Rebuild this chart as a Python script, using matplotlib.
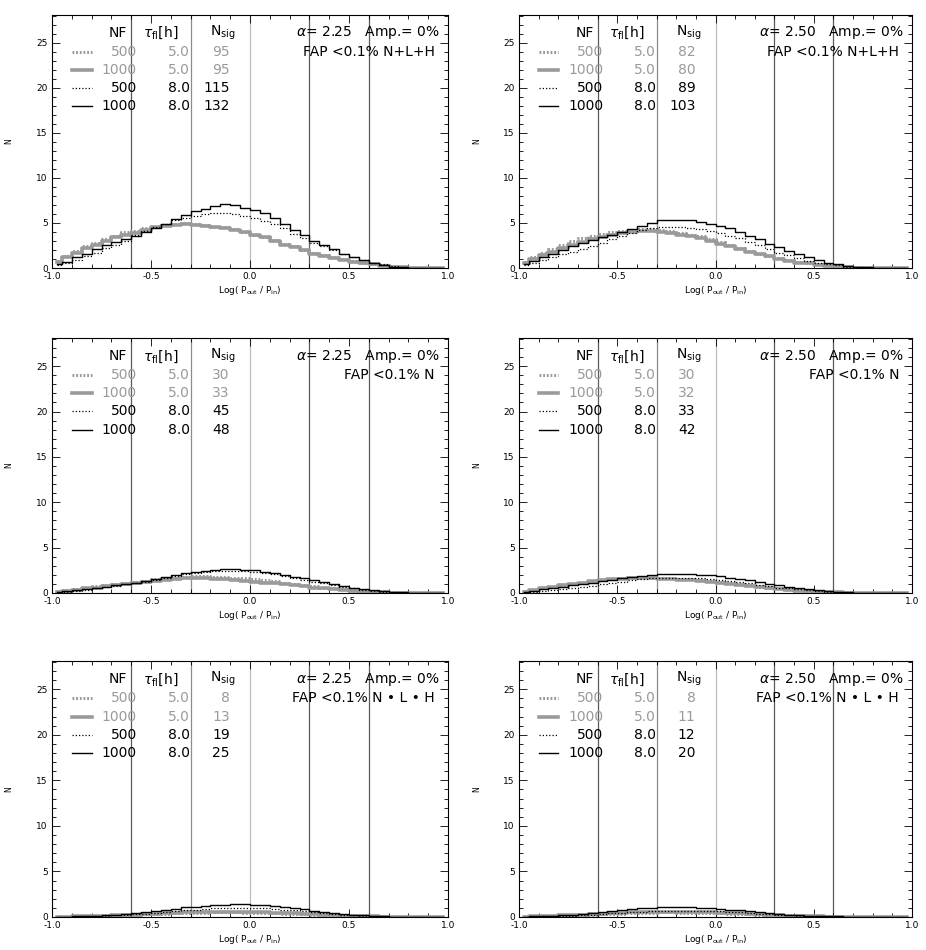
import numpy as np
import matplotlib.pyplot as plt
from matplotlib.ticker import MultipleLocator, FormatStrFormatter

# bin centres of the histograms (psym=10 style steps)
x = np.arange(40) * 0.05 - 0.975

# alpha = 2.25, FAP < 0.1% N+L+H
a225_nlh_500_5 = [0.8, 1.3, 1.9, 2.4, 2.8, 3.2, 3.6, 4.0, 4.1, 4.4, 4.6, 4.8, 4.9, 5.0, 4.9, 4.8, 4.6, 4.5, 4.3, 4.0,
                  3.7, 3.4, 3.1, 2.7, 2.4, 2.0, 1.7, 1.4, 1.2, 1.0, 0.8, 0.6, 0.4, 0.3, 0.15, 0.07, 0.03, 0.01, 0, 0]
a225_nlh_1000_5 = [0.7, 1.2, 1.7, 2.2, 2.6, 3.0, 3.4, 3.7, 3.9, 4.2, 4.5, 4.7, 4.8, 4.9, 4.8, 4.7, 4.5, 4.4, 4.2, 4.0,
                   3.7, 3.4, 3.0, 2.6, 2.3, 2.0, 1.6, 1.3, 1.1, 0.9, 0.7, 0.5, 0.4, 0.25, 0.15, 0.07, 0.03, 0.01, 0, 0]
a225_nlh_500_8 = [0.3, 0.6, 0.9, 1.3, 1.7, 2.2, 2.6, 3.0, 3.7, 4.1, 4.5, 4.9, 5.3, 5.6, 5.8, 6.0, 6.1, 6.1, 6.0, 5.8,
                  5.5, 5.2, 4.9, 4.4, 3.8, 3.3, 2.8, 2.4, 2.0, 1.6, 1.2, 0.9, 0.6, 0.4, 0.2, 0.1, 0.04, 0.01, 0, 0]
a225_nlh_1000_8 = [0.4, 0.7, 1.2, 1.6, 2.1, 2.6, 2.9, 3.2, 3.6, 4.0, 4.4, 4.9, 5.4, 5.9, 6.3, 6.6, 6.9, 7.1, 7.0, 6.7,
                   6.4, 6.1, 5.6, 4.9, 4.2, 3.7, 3.0, 2.5, 2.1, 1.6, 1.2, 0.9, 0.6, 0.35, 0.15, 0.08, 0.03, 0.01, 0, 0]

# alpha = 2.50, FAP < 0.1% N+L+H
a250_nlh_500_5 = [0.7, 1.2, 1.7, 2.1, 2.5, 3.0, 3.3, 3.6, 3.8, 4.0, 4.1, 4.2, 4.3, 4.3, 4.2, 4.1, 3.9, 3.7, 3.5, 3.2,
                  2.9, 2.6, 2.2, 1.9, 1.6, 1.3, 1.1, 0.9, 0.7, 0.5, 0.4, 0.3, 0.2, 0.1, 0.05, 0.02, 0, 0, 0, 0]
a250_nlh_1000_5 = [0.6, 1.0, 1.4, 1.8, 2.2, 2.6, 2.9, 3.2, 3.4, 3.7, 3.9, 4.0, 4.1, 4.1, 4.0, 3.9, 3.7, 3.6, 3.3, 3.0,
                   2.7, 2.4, 2.1, 1.8, 1.5, 1.3, 1.0, 0.8, 0.6, 0.5, 0.35, 0.25, 0.15, 0.1, 0.05, 0.02, 0, 0, 0, 0]
a250_nlh_500_8 = [0.3, 0.6, 0.9, 1.2, 1.5, 1.8, 2.1, 2.4, 2.8, 3.2, 3.6, 3.9, 4.2, 4.4, 4.5, 4.5, 4.5, 4.4, 4.3, 4.1,
                  3.9, 3.6, 3.3, 2.9, 2.5, 2.1, 1.7, 1.4, 1.1, 0.8, 0.6, 0.4, 0.3, 0.15, 0.08, 0.03, 0.01, 0, 0, 0]
a250_nlh_1000_8 = [0.4, 0.8, 1.2, 1.6, 2.0, 2.4, 2.8, 3.1, 3.4, 3.7, 4.0, 4.3, 4.7, 5.0, 5.3, 5.3, 5.3, 5.3, 5.1, 4.9,
                   4.7, 4.4, 4.0, 3.6, 3.2, 2.7, 2.3, 1.9, 1.5, 1.2, 0.9, 0.6, 0.4, 0.25, 0.15, 0.07, 0.03, 0.01, 0, 0]

# alpha = 2.25, FAP < 0.1% N
a225_n_500_5 = [0.15, 0.3, 0.45, 0.6, 0.75, 0.85, 1.0, 1.1, 1.2, 1.35, 1.5, 1.6, 1.7, 1.8, 1.85, 1.85, 1.8, 1.75, 1.7, 1.6,
                1.5, 1.4, 1.3, 1.15, 1.0, 0.9, 0.75, 0.6, 0.5, 0.4, 0.3, 0.2, 0.12, 0.07, 0.04, 0.02, 0, 0, 0, 0]
a225_n_1000_5 = [0.15, 0.25, 0.35, 0.5, 0.6, 0.75, 0.9, 1.0, 1.1, 1.25, 1.35, 1.45, 1.55, 1.6, 1.6, 1.6, 1.55, 1.5, 1.45, 1.35,
                 1.25, 1.15, 1.05, 0.95, 0.85, 0.75, 0.6, 0.5, 0.4, 0.3, 0.22, 0.15, 0.1, 0.06, 0.03, 0.01, 0, 0, 0, 0]
a225_n_500_8 = [0.08, 0.15, 0.25, 0.35, 0.5, 0.65, 0.8, 0.95, 1.1, 1.25, 1.45, 1.65, 1.85, 2.05, 2.2, 2.35, 2.4, 2.45, 2.45, 2.4,
                2.3, 2.2, 2.05, 1.85, 1.65, 1.45, 1.25, 1.05, 0.85, 0.7, 0.5, 0.35, 0.25, 0.15, 0.08, 0.04, 0.02, 0, 0, 0]
a225_n_1000_8 = [0.1, 0.2, 0.3, 0.4, 0.55, 0.7, 0.85, 1.0, 1.15, 1.35, 1.55, 1.75, 1.95, 2.15, 2.3, 2.45, 2.55, 2.6, 2.6, 2.55,
                 2.5, 2.35, 2.2, 2.0, 1.8, 1.6, 1.4, 1.2, 1.0, 0.8, 0.6, 0.45, 0.3, 0.2, 0.12, 0.06, 0.03, 0.01, 0, 0]

# alpha = 2.50, FAP < 0.1% N
a250_n_500_5 = [0.2, 0.35, 0.5, 0.65, 0.8, 0.95, 1.1, 1.25, 1.4, 1.5, 1.6, 1.65, 1.7, 1.7, 1.65, 1.6, 1.55, 1.5, 1.4, 1.3,
                1.2, 1.05, 0.95, 0.85, 0.7, 0.6, 0.5, 0.4, 0.3, 0.22, 0.15, 0.1, 0.06, 0.03, 0.01, 0, 0, 0, 0, 0]
a250_n_1000_5 = [0.15, 0.35, 0.5, 0.7, 0.85, 1.0, 1.15, 1.3, 1.4, 1.5, 1.55, 1.6, 1.6, 1.6, 1.55, 1.5, 1.45, 1.4, 1.3, 1.2,
                 1.1, 1.0, 0.85, 0.75, 0.65, 0.55, 0.45, 0.35, 0.25, 0.2, 0.15, 0.1, 0.06, 0.03, 0.01, 0, 0, 0, 0, 0]
a250_n_500_8 = [0.05, 0.1, 0.2, 0.3, 0.4, 0.5, 0.65, 0.8, 0.95, 1.1, 1.25, 1.4, 1.55, 1.65, 1.7, 1.7, 1.7, 1.65, 1.6, 1.55,
                1.45, 1.35, 1.2, 1.05, 0.9, 0.75, 0.6, 0.5, 0.4, 0.3, 0.2, 0.15, 0.1, 0.06, 0.03, 0.01, 0, 0, 0, 0]
a250_n_1000_8 = [0.1, 0.25, 0.4, 0.55, 0.7, 0.85, 1.0, 1.15, 1.3, 1.45, 1.6, 1.75, 1.9, 2.0, 2.1, 2.1, 2.1, 2.05, 2.0, 1.95,
                 1.85, 1.7, 1.55, 1.4, 1.2, 1.0, 0.85, 0.7, 0.55, 0.4, 0.3, 0.2, 0.15, 0.1, 0.05, 0.03, 0.01, 0, 0, 0]

# alpha = 2.25, FAP < 0.1% N.L.H
a225_nxlxh_500_5 = [0.01, 0.03, 0.05, 0.07, 0.1, 0.13, 0.16, 0.2, 0.24, 0.28, 0.32, 0.36, 0.4, 0.44, 0.47, 0.49, 0.5, 0.5, 0.5, 0.49,
                    0.47, 0.44, 0.41, 0.37, 0.33, 0.29, 0.25, 0.21, 0.17, 0.13, 0.1, 0.07, 0.05, 0.03, 0.02, 0.01, 0, 0, 0, 0]
a225_nxlxh_1000_5 = [0.02, 0.04, 0.06, 0.09, 0.12, 0.15, 0.19, 0.23, 0.27, 0.32, 0.37, 0.42, 0.47, 0.52, 0.56, 0.58, 0.6, 0.6, 0.6, 0.58,
                     0.55, 0.52, 0.48, 0.44, 0.4, 0.35, 0.3, 0.25, 0.2, 0.16, 0.12, 0.09, 0.06, 0.04, 0.02, 0.01, 0, 0, 0, 0]
a225_nxlxh_500_8 = [0.01, 0.03, 0.05, 0.07, 0.1, 0.14, 0.18, 0.24, 0.3, 0.38, 0.45, 0.55, 0.65, 0.75, 0.82, 0.9, 0.95, 1.0, 1.0, 1.0,
                    0.98, 0.95, 0.9, 0.82, 0.72, 0.62, 0.52, 0.42, 0.33, 0.25, 0.18, 0.13, 0.09, 0.06, 0.04, 0.02, 0.01, 0, 0, 0]
a225_nxlxh_1000_8 = [0.02, 0.04, 0.06, 0.1, 0.14, 0.2, 0.27, 0.35, 0.45, 0.55, 0.65, 0.75, 0.9, 1.05, 1.15, 1.25, 1.3, 1.35, 1.4, 1.4,
                     1.35, 1.3, 1.2, 1.1, 1.0, 0.85, 0.7, 0.55, 0.45, 0.35, 0.25, 0.18, 0.12, 0.08, 0.05, 0.03, 0.02, 0.01, 0, 0]

# alpha = 2.50, FAP < 0.1% N.L.H
a250_nxlxh_500_5 = [0.02, 0.05, 0.08, 0.11, 0.14, 0.18, 0.22, 0.26, 0.3, 0.34, 0.38, 0.42, 0.46, 0.49, 0.5, 0.5, 0.49, 0.47, 0.45, 0.42,
                    0.39, 0.36, 0.32, 0.28, 0.24, 0.2, 0.17, 0.14, 0.11, 0.08, 0.06, 0.04, 0.03, 0.02, 0.01, 0, 0, 0, 0, 0]
a250_nxlxh_1000_5 = [0.03, 0.06, 0.09, 0.13, 0.17, 0.22, 0.27, 0.32, 0.37, 0.42, 0.47, 0.52, 0.56, 0.59, 0.6, 0.6, 0.59, 0.57, 0.54, 0.51,
                     0.47, 0.43, 0.39, 0.34, 0.29, 0.24, 0.2, 0.16, 0.12, 0.09, 0.07, 0.05, 0.03, 0.02, 0.01, 0, 0, 0, 0, 0]
a250_nxlxh_500_8 = [0.02, 0.04, 0.06, 0.09, 0.12, 0.16, 0.21, 0.27, 0.33, 0.4, 0.47, 0.54, 0.6, 0.65, 0.68, 0.7, 0.7, 0.7, 0.68, 0.65,
                    0.61, 0.56, 0.5, 0.44, 0.38, 0.32, 0.26, 0.21, 0.16, 0.12, 0.09, 0.06, 0.04, 0.03, 0.02, 0.01, 0, 0, 0, 0]
a250_nxlxh_1000_8 = [0.03, 0.06, 0.1, 0.15, 0.2, 0.27, 0.35, 0.45, 0.55, 0.65, 0.75, 0.85, 0.95, 1.0, 1.05, 1.05, 1.05, 1.05, 1.0, 0.95,
                     0.9, 0.82, 0.72, 0.62, 0.52, 0.42, 0.34, 0.27, 0.21, 0.16, 0.12, 0.09, 0.06, 0.04, 0.03, 0.02, 0.01, 0, 0, 0]

# legend table
nf_vals = ['500', '1000', '500', '1000']
tau_vals = ['5.0', '5.0', '8.0', '8.0']
alphas = ['2.25', '2.50']
fap_labels = ['N+L+H', 'N', 'N \u2022 L \u2022 H']
nsig = [
    [['95', '95', '115', '132'], ['82', '80', '89', '103']],
    [['30', '33', '45', '48'], ['30', '32', '33', '42']],
    [['8', '13', '19', '25'], ['8', '11', '12', '20']],
]
hists = [
    [[a225_nlh_500_5, a225_nlh_1000_5, a225_nlh_500_8, a225_nlh_1000_8],
     [a250_nlh_500_5, a250_nlh_1000_5, a250_nlh_500_8, a250_nlh_1000_8]],
    [[a225_n_500_5, a225_n_1000_5, a225_n_500_8, a225_n_1000_8],
     [a250_n_500_5, a250_n_1000_5, a250_n_500_8, a250_n_1000_8]],
    [[a225_nxlxh_500_5, a225_nxlxh_1000_5, a225_nxlxh_500_8, a225_nxlxh_1000_8],
     [a250_nxlxh_500_5, a250_nxlxh_1000_5, a250_nxlxh_500_8, a250_nxlxh_1000_8]],
]
vlines = [-0.6, -0.3, 0.0, 0.3, 0.6]
vline_cols = ['#5a5a5a', '#8c8c8c', '#bdbdbd', '#5a5a5a', '#5a5a5a']

grey = '#9a9a9a'
styles = [
    dict(color=grey, ls=(0, (0.6, 0.6)), lw=2.2),
    dict(color=grey, ls='-', lw=2.6),
    dict(color='black', ls=(0, (1, 1.6)), lw=0.9),
    dict(color='black', ls='-', lw=1.0),
]
txt_cols = [grey, grey, 'black', 'black']

plt.rcParams['font.family'] = 'DejaVu Sans'
fig = plt.figure(figsize=(9.26, 9.5), dpi=100)
W, H = 926., 950.
col_x = [(52, 448), (519, 912)]
row_y = [(15, 268), (338, 593), (661, 917)]

for r in range(3):
    for c in range(2):
        x0, x1 = col_x[c]
        y0, y1 = row_y[r]
        ax = fig.add_axes([x0 / W, 1 - y1 / H, (x1 - x0) / W, (y1 - y0) / H])
        for xv, vc in zip(vlines, vline_cols):
            ax.axvline(xv, color=vc, lw=0.9, zorder=1)
        for i in range(4):
            ax.step(x, hists[r][c][i], where='mid', zorder=3 if i >= 2 else 2, **styles[i])
        ax.set_xlim(-1.0, 1.0)
        ax.set_ylim(0, 28.1)
        ax.xaxis.set_major_locator(MultipleLocator(0.5))
        ax.xaxis.set_minor_locator(MultipleLocator(0.1))
        ax.yaxis.set_major_locator(MultipleLocator(5))
        ax.yaxis.set_minor_locator(MultipleLocator(1))
        ax.xaxis.set_major_formatter(FormatStrFormatter('%.1f'))
        ax.tick_params(which='both', direction='in', top=True, right=True, labelsize=6.5, width=0.6, pad=3)
        ax.tick_params(which='major', length=6)
        ax.tick_params(which='minor', length=3)
        for s in ax.spines.values():
            s.set_linewidth(0.8)
        ax.set_xlabel(r'Log( P$_{\rm out}$ / P$_{\rm in}$)', fontsize=6.5, labelpad=2)
        ax.set_ylabel('N', fontsize=5.5)
        ax.yaxis.set_label_coords(-0.097, 0.5)

        # legend table
        t = ax.transAxes
        hy = 0.929
        ax.text(0.167, hy, 'NF', transform=t, ha='center', va='center', fontsize=10)
        ax.text(0.275, hy, r'$\tau_{\rm fl}\left[\mathrm{h}\right]$', transform=t, ha='center', va='center', fontsize=10)
        ax.text(0.399, hy, r'N$_{\rm sig}$', transform=t, ha='left', va='center', fontsize=10)
        row_fy = [0.854, 0.783, 0.712, 0.641]
        for i in range(4):
            yy = row_fy[i]
            ax.plot([0.05, 0.10], [yy, yy], transform=t, **styles[i])
            ax.text(0.214, yy, nf_vals[i], transform=t, ha='right', va='center', fontsize=10, color=txt_cols[i])
            ax.text(0.348, yy, tau_vals[i], transform=t, ha='right', va='center', fontsize=10, color=txt_cols[i])
            ax.text(0.449, yy, nsig[r][c][i], transform=t, ha='right', va='center', fontsize=10, color=txt_cols[i])
        ax.text(0.98, hy, r'$\alpha$= ' + alphas[c] + '   Amp.= 0%', transform=t, ha='right', va='center', fontsize=10)
        ax.text(0.967, 0.854, 'FAP <0.1% ' + fap_labels[r], transform=t, ha='right', va='center', fontsize=10)

fig.savefig('out.png', dpi=100)
